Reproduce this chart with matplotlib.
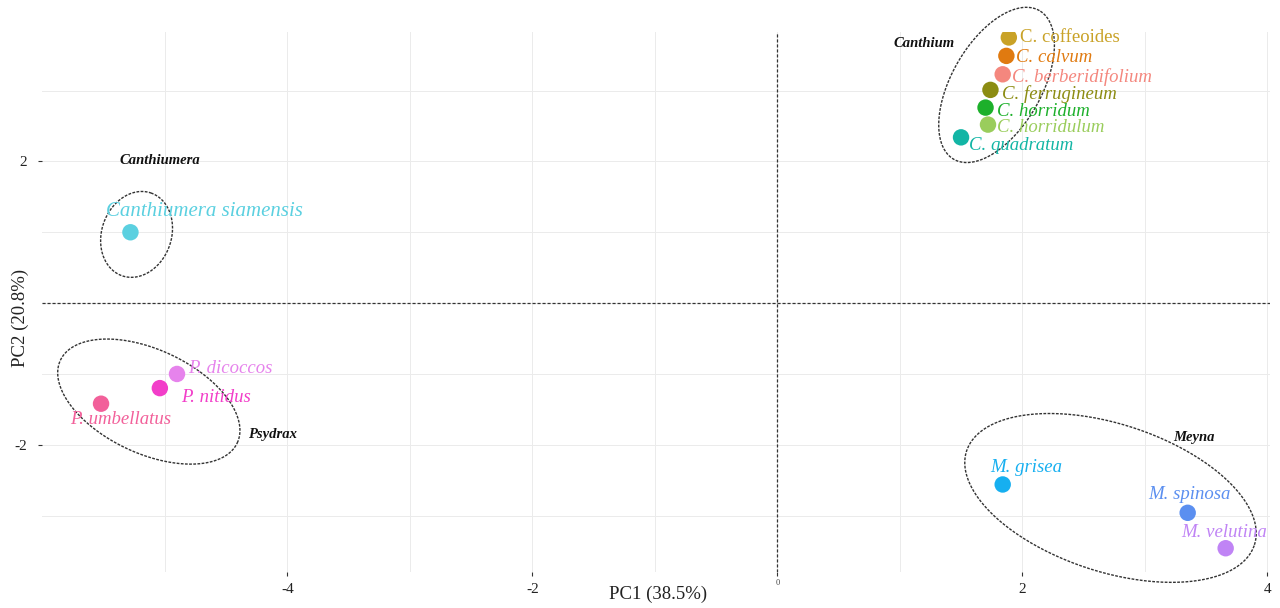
import numpy as np
import matplotlib
matplotlib.use("Agg")
import matplotlib.pyplot as plt

plt.rcParams['font.family'] = ['Liberation Serif', 'DejaVu Serif']

# species scores on the first two principal components
species = ["C. coffeoides", "C. calvum", "C. berberidifolium", "C. ferrugineum",
           "C. horridum", "C. horridulum", "C. quadratum", "Canthiumera siamensis",
           "P. dicoccos", "P. nitidus", "P. umbellatus",
           "M. grisea", "M. spinosa", "M. velutina"]
pc1 = [1.89, 1.87, 1.84, 1.74, 1.70, 1.72, 1.50, -5.28,
       -4.90, -5.04, -5.52, 1.84, 3.35, 3.66]
pc2 = [3.75, 3.49, 3.23, 3.01, 2.76, 2.52, 2.34, 1.00,
       -1.00, -1.20, -1.42, -2.56, -2.96, -3.46]
colors = ["#C9A227", "#E07A10", "#F4877E", "#8C8C12", "#1DB02B", "#9ACD5C", "#12B5A5",
          "#5BD0E0", "#E683EC", "#F23EC9", "#F2609A", "#16AFF0", "#5B8FF0", "#C084F5"]
italic = [False] + [True] * 13
label_size = [13.5] * 7 + [15] + [13.5] * 6
# label offsets in points (ggrepel-like placement)
label_dx = [8, 7, 6.5, 8.5, 8, 6.5, 6, 53, 8, 15, 14, 17, 1, -1]
label_dy = [0, -1, -2, -3, -3, -2, -6, 15, 4, -6.5, -11.5, 12, 13.5, 11]
label_ha = ["left"] * 7 + ["center", "left", "left", "center", "center", "center", "center"]

# genus groups: label position and ellipse (centre, two semi-axis vectors)
genera = ["Canthium", "Canthiumera", "Psydrax", "Meyna"]
genus_x = [1.20, -5.04, -4.12, 3.40]
genus_y = [3.66, 2.01, -1.85, -1.90]
ell_cx = [1.79, -5.23, -5.13, 2.72]
ell_cy = [3.08, 0.97, -1.39, -2.75]
ell_u = [(0.350, 1.049), (0.122, 0.582), (0.722, -0.583), (1.175, -0.662)]
ell_v = [(-0.317, 0.317), (-0.267, 0.169), (0.179, 0.663), (0.186, 0.991)]

fig = plt.figure(figsize=(12.8, 6.08), dpi=100)
ax = fig.add_axes([0.033, 0.0587, 0.959, 0.889])

ax.set_xlim(-6.0, 4.02)
ax.set_ylim(-3.8, 3.83)

ax.set_xticks([-4, -2, 0, 2, 4])
ax.set_xticklabels(["-4", "-2", "", "2", "4"])
ax.set_xticks([-5, -3, -1, 1, 3], minor=True)
ax.set_yticks([-2, 2])
ax.set_yticklabels(["-2", "2"])
ax.set_yticks([-3, -1, 0, 1, 3], minor=True)
ax.grid(True, which="both", color="#EBEBEB", linewidth=0.7)
ax.set_axisbelow(True)
for s in ax.spines.values():
    s.set_visible(False)
ax.tick_params(axis="both", which="major", length=3, color="#333333",
               labelsize=11, labelcolor="#222222")
ax.tick_params(axis="x", which="major", pad=5)
ax.tick_params(axis="y", which="major", pad=8)
ax.tick_params(axis="both", which="minor", length=0)
# the zero label is drawn small and close to the axis
ax.annotate("0", (0, 0), xycoords=("data", "axes fraction"), xytext=(0, -8),
            textcoords="offset points", ha="center", va="center",
            fontsize=6, color="#444444")

ax.axhline(0, color="#333333", linestyle=(0, (2.5, 1.5)), linewidth=0.9, zorder=1)
ax.axvline(0, color="#333333", linestyle=(0, (2.5, 1.5)), linewidth=0.9, zorder=1)

# ellipses
t = np.linspace(0, 2 * np.pi, 300)
for cx, cy, u, v in zip(ell_cx, ell_cy, ell_u, ell_v):
    ex = cx + u[0] * np.cos(t) + v[0] * np.sin(t)
    ey = cy + u[1] * np.cos(t) + v[1] * np.sin(t)
    ax.plot(ex, ey, color="#333333", linestyle=(0, (2, 1)), linewidth=1.0,
            zorder=2, clip_on=False)

ax.scatter(pc1, pc2, s=140, c=colors, edgecolors="none", zorder=3)

for name, x, y, c, it, fs, dx, dy, ha in zip(species, pc1, pc2, colors, italic, label_size,
                                             label_dx, label_dy, label_ha):
    ax.annotate(name, (x, y), xytext=(dx, dy), textcoords="offset points",
                ha=ha, va="center", fontsize=fs, color=c,
                style="italic" if it else "normal", zorder=4)

for g, x, y in zip(genera, genus_x, genus_y):
    ax.text(x, y, g, ha="center", va="center", fontsize=10.5, style="italic",
            fontweight="bold", color="#111111", zorder=4)

ax.set_xlabel("PC1 (38.5%)", fontsize=13.5, color="#222222", va="center")
ax.xaxis.set_label_coords(0.502, -0.04)
ax.set_ylabel("PC2 (20.8%)", fontsize=13.5, color="#222222", va="center")
ax.yaxis.set_label_coords(-0.018, 0.47)

fig.savefig("out.png", dpi=100, facecolor="white")
